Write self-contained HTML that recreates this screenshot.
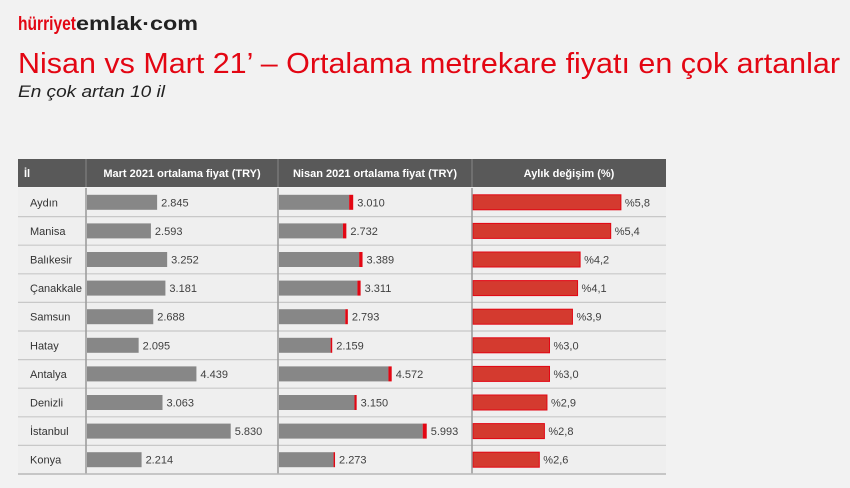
<!DOCTYPE html>
<html><head><meta charset="utf-8"><style>
body{margin:0;background:#f2f2f2;}
svg{display:block;font-family:"Liberation Sans",sans-serif;}
</style></head><body>
<svg id="c" width="850" height="488">
<rect width="850" height="488" fill="#f2f2f2"/>
<g>
<text x="18" y="30" font-size="19" font-weight="bold" fill="#e30613" textLength="58" lengthAdjust="spacingAndGlyphs">hürriyet</text>
<text x="76" y="30" font-size="19" font-weight="bold" fill="#222" textLength="122" lengthAdjust="spacingAndGlyphs">emlak·com</text>
</g>
<text x="18" y="73" font-size="29" fill="#e30613" textLength="822" lengthAdjust="spacingAndGlyphs">Nisan vs Mart 21’ – Ortalama metrekare fiyatı en çok artanlar</text>
<text x="18" y="97" font-size="17" font-style="italic" fill="#222" textLength="147" lengthAdjust="spacingAndGlyphs">En çok artan 10 il</text>
<g id="tbl"></g>
</svg>
<script>
const cities=["Aydın","Manisa","Balıkesir","Çanakkale","Samsun","Hatay","Antalya","Denizli","İstanbul","Konya"];
const mart=[2845,2593,3252,3181,2688,2095,4439,3063,5830,2214];
const nisan=[3010,2732,3389,3311,2793,2159,4572,3150,5993,2273];
const change=[5.8,5.4,4.2,4.1,3.9,3.0,3.0,2.9,2.8,2.6];
const headers=["İl","Mart 2021 ortalama fiyat (TRY)","Nisan 2021 ortalama fiyat (TRY)","Aylık değişim (%)"];
const NS="http://www.w3.org/2000/svg";
const g=document.getElementById('tbl');
function mk(t,a,p){const e=document.createElementNS(NS,t);for(const k in a)e.setAttribute(k,a[k]);(p||g).appendChild(e);return e;}
const X0=18,X1=86,X2=278,X3=472,X4=666,HY=159,HH=28,RY=188,RH=28.6;
const price=v=>v*0.02465;
const pct=v=>v*25.5;
const fmt=v=>String(v).replace(/\B(?=(\d{3})+(?!\d))/g,".");
const hdr=mk('rect',{x:X0,y:HY,width:X4-X0,height:HH,fill:"#595959"});


const cx=[X0,X1,X2,X3,X4];
headers.forEach((h,i)=>{
  const t=mk('text',{x:i==0?X0+6:(cx[i]+cx[i+1])/2,y:HY+18,"font-size":11,"font-weight":"bold",fill:"#fff","text-anchor":i==0?"start":"middle"});
  t.textContent=h;
  
  
  if(i>0) mk('line',{x1:cx[i],x2:cx[i],y1:HY,y2:HY+HH,stroke:"#888"});
});
const bottom=RY+RH*cities.length;
mk('rect',{x:X0,y:RY,width:X4-X0,height:bottom-RY,fill:"#efefef"});
cities.forEach((c,i)=>{
  const y=RY+i*RH, cy=y+RH/2, bh=15, by=cy-bh/2;
  mk('line',{x1:X0,x2:X4,y1:y+RH,y2:y+RH,stroke:"#c8c8c8","stroke-width":1.2});
  const n=mk('text',{x:X0+12,y:cy+4,"font-size":11,fill:"#333"});n.textContent=c;
  
  
  const b1=mk('rect',{x:X1+1,y:by,width:price(mart[i]),height:bh,fill:"#878787"});
  
  
  const l1=mk('text',{x:X1+1+price(mart[i])+4,y:cy+4,"font-size":11,fill:"#404040"});l1.textContent=fmt(mart[i]);
  
  
  const b2=mk('rect',{x:X2+1,y:by,width:price(mart[i]),height:bh,fill:"#878787"});
  
  
  const b2r=mk('rect',{x:X2+1+price(mart[i]),y:by,width:price(nisan[i]-mart[i]),height:bh,fill:"#e30613"});
  
  
  const l2=mk('text',{x:X2+1+price(nisan[i])+4,y:cy+4,"font-size":11,fill:"#404040"});l2.textContent=fmt(nisan[i]);
  
  
  const b3=mk('rect',{x:X3+1,y:by,width:pct(change[i]),height:bh,fill:"#d43a2f",stroke:"#e30613","stroke-width":1});
  
  
  const l3=mk('text',{x:X3+1+pct(change[i])+4,y:cy+4,"font-size":11,fill:"#404040"});l3.textContent="%"+change[i].toFixed(1).replace(".",",");
  
  
});
[X1,X2,X3].forEach(x=>mk('line',{x1:x,x2:x,y1:RY,y2:bottom,stroke:"#999","stroke-width":1.5}));
mk('line',{x1:X0,x2:X4,y1:bottom,y2:bottom,stroke:"#bbb","stroke-width":1.5});
</script>
</body></html>
